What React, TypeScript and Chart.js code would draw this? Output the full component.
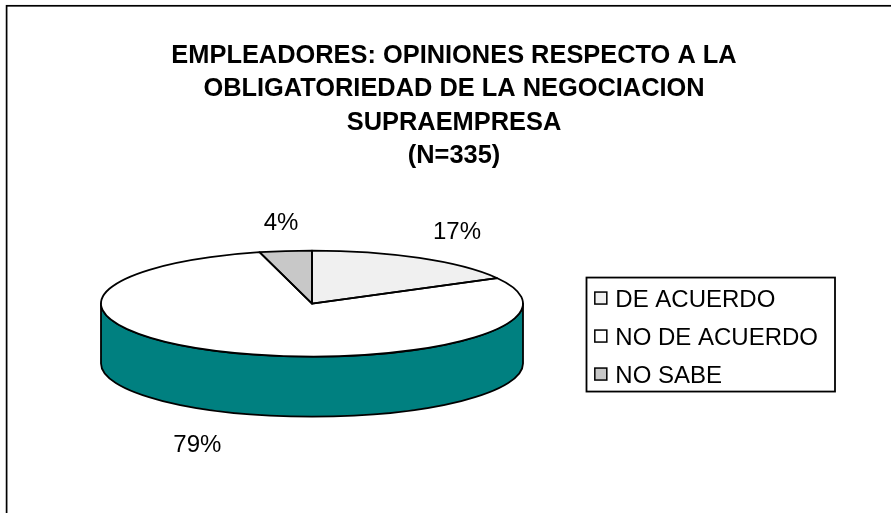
import React, { useEffect, useRef } from "react";
import { Chart, registerables } from "chart.js";

Chart.register(...registerables);

const categories = ["DE ACUERDO", "NO DE ACUERDO", "NO SABE"];
const values = [17, 79, 4];
const topColors = ["#F0F0F0", "#FFFFFF", "#C8C8C8"];
const sideColors = ["#B4B4B4", "#008080", "#969696"];
const titleLines = [
  "EMPLEADORES: OPINIONES RESPECTO A LA",
  "OBLIGATORIEDAD DE LA NEGOCIACION",
  "SUPRAEMPRESA",
  "(N=335)",
];

const FONT = "'Liberation Sans', Arial, sans-serif";
const PIE_CX = 312;
const PIE_LIFT = 35;
const RX = 211;
const RY = 53;
const DEPTH = 60;
const LINE = 1.8;

const geometry = (arc: any) => ({
  cx: PIE_CX,
  cy: arc.y - PIE_LIFT,
  r: arc.outerRadius,
});

const piePlugin = {
  id: "flatPie",
  beforeDraw(chart: any) {
    const { ctx, width, height } = chart;
    ctx.save();
    ctx.fillStyle = "#FFFFFF";
    ctx.fillRect(0, 0, width, height);
    ctx.strokeStyle = "#000000";
    ctx.lineWidth = 1.7;
    ctx.strokeRect(6.6, 5.8, width + 50, height + 50);
    ctx.restore();
  },
  beforeDatasetsDraw(chart: any) {
    const { ctx } = chart;
    const arcs = chart.getDatasetMeta(0).data;
    const { cx, cy, r } = geometry(arcs[0]);
    ctx.save();
    ctx.lineWidth = LINE;
    ctx.strokeStyle = "#000000";
    ctx.lineJoin = "round";
    arcs.forEach((arc: any, i: number) => {
      const a = Math.max(arc.startAngle, 0);
      const b = Math.min(arc.endAngle, Math.PI);
      if (b <= a) return;
      ctx.beginPath();
      ctx.ellipse(cx, cy, RX, RY, 0, a, b);
      ctx.lineTo(cx + RX * Math.cos(b), cy + RY * Math.sin(b) + DEPTH);
      ctx.ellipse(cx, cy + DEPTH, RX, RY, 0, b, a, true);
      ctx.closePath();
      ctx.fillStyle = sideColors[i];
      ctx.fill();
      ctx.stroke();
    });
    ctx.restore();
    ctx.save();
    ctx.translate(cx, cy);
    ctx.scale(RX / r, RY / r);
    ctx.translate(-arcs[0].x, -arcs[0].y);
  },
  afterDatasetsDraw(chart: any) {
    const { ctx } = chart;
    ctx.restore();
    const arcs = chart.getDatasetMeta(0).data;
    const { cx, cy } = geometry(arcs[0]);
    ctx.save();
    ctx.lineWidth = LINE;
    ctx.strokeStyle = "#000000";
    ctx.lineJoin = "round";
    arcs.forEach((arc: any) => {
      ctx.beginPath();
      ctx.moveTo(cx, cy);
      ctx.ellipse(cx, cy, RX, RY, 0, arc.startAngle, arc.endAngle);
      ctx.closePath();
      ctx.stroke();
    });
    ctx.fillStyle = "#000000";
    ctx.font = `24px ${FONT}`;
    ctx.textAlign = "center";
    ctx.textBaseline = "middle";
    const nudgeX = [7, -7, 3];
    const nudgeY = [0, 0, 2];
    arcs.forEach((arc: any, i: number) => {
      const mid = (arc.startAngle + arc.endAngle) / 2;
      const lower = Math.sin(mid) > 0;
      const x = cx + (RX + 60) * Math.cos(mid) + nudgeX[i];
      const y = cy + (RY + 30) * Math.sin(mid) + (lower ? DEPTH + 6 : 0) + nudgeY[i];
      ctx.fillText(`${values[i]}%`, x, y);
    });
    ctx.restore();
  },
  afterDraw(chart: any) {
    const { ctx, legend } = chart;
    const hb = legend.legendHitBoxes;
    const top = hb[0].top - 11;
    const bottom = hb[hb.length - 1].top + hb[hb.length - 1].height + 3;
    ctx.save();
    ctx.lineWidth = LINE;
    ctx.strokeStyle = "#000000";
    ctx.strokeRect(586.5, top, 248.5, bottom - top);
    ctx.lineWidth = 1.5;
    hb.forEach((box: any, i: number) => {
      const size = 12;
      const x = box.left + 3.5;
      const y = box.top + box.height / 2 - size / 2 - 2.5;
      ctx.fillStyle = topColors[i];
      ctx.fillRect(x, y, size, size);
      ctx.strokeRect(x, y, size, size);
    });
    ctx.restore();
  },
};

export default function App() {
  const ref = useRef<HTMLCanvasElement | null>(null);
  useEffect(() => {
    const chart = new Chart(ref.current as HTMLCanvasElement, {
      type: "pie",
      data: {
        labels: categories,
        datasets: [
          {
            data: values,
            backgroundColor: topColors,
            borderWidth: 0,
            clip: false,
          } as any,
        ],
      },
      options: {
        responsive: false,
        animation: false,
        layout: { padding: { left: 80, right: 63, top: 0, bottom: 24 } },
        plugins: {
          tooltip: { enabled: false },
          title: {
            display: true,
            text: titleLines,
            color: "#000000",
            font: { family: FONT, size: 25.4, weight: "bold", lineHeight: 1.32 },
            padding: { top: 39, bottom: 15 },
          },
          legend: {
            position: "right",
            fullSize: false,
            labels: {
              color: "#000000",
              boxWidth: 12,
              boxHeight: 12,
              padding: 14,
              font: { family: FONT, size: 24 },
              generateLabels(c: any) {
                const base = (Chart as any).overrides.doughnut.plugins.legend.labels.generateLabels(c);
                return base.map((it: any) => ({ ...it, fillStyle: "rgba(0,0,0,0)", strokeStyle: "rgba(0,0,0,0)", lineWidth: 0 }));
              },
            },
          },
        },
      },
      plugins: [piePlugin],
    } as any);
    return () => chart.destroy();
  }, []);
  return (
    <div style={{ position: "absolute", left: 0, top: 0, width: 891, height: 513 }}>
      <canvas ref={ref} width={891} height={513} style={{ display: "block" }} />
    </div>
  );
}
